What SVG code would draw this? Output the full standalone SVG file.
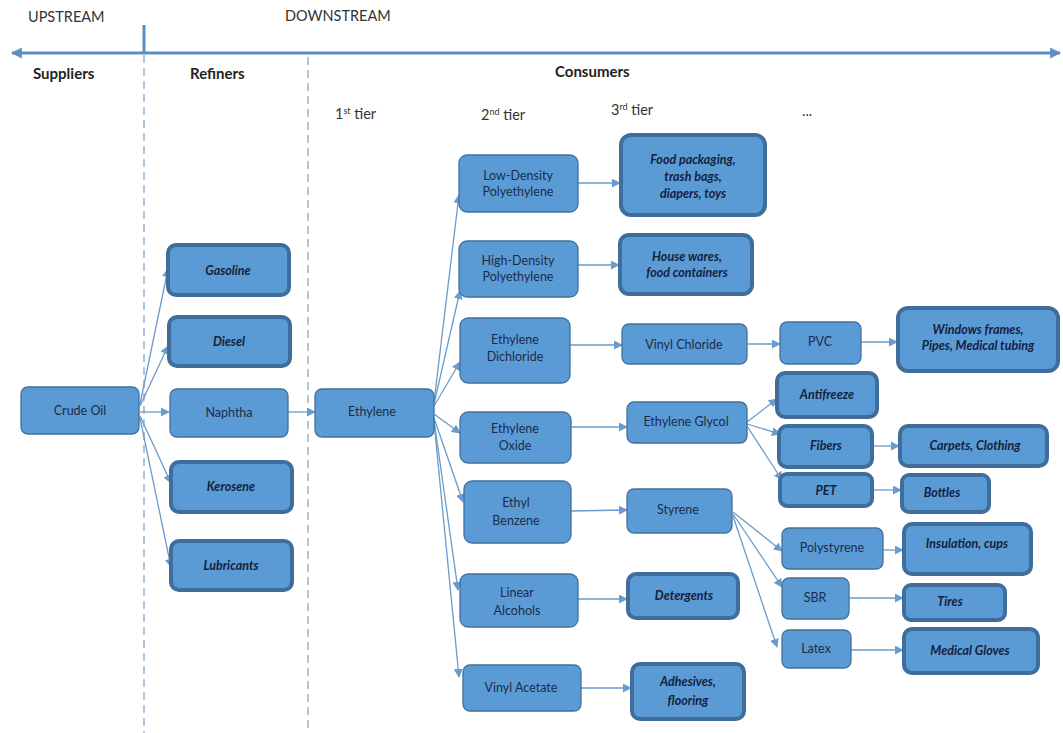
<svg xmlns="http://www.w3.org/2000/svg" width="1063" height="733" viewBox="0 0 1063 733">
<defs>
<marker id="ah" viewBox="0 0 10 10" refX="9" refY="5" markerWidth="9" markerHeight="9" markerUnits="userSpaceOnUse" orient="auto">
<path d="M0,0 L10,5 L0,10 z" fill="#6a9bcc"/>
</marker>
<marker id="axr" viewBox="0 0 10 10" refX="9" refY="5" markerWidth="11" markerHeight="11" markerUnits="userSpaceOnUse" orient="auto">
<path d="M0,0 L10,5 L0,10 z" fill="#5b8fc4"/>
</marker>
<marker id="axl" viewBox="0 0 10 10" refX="1" refY="5" markerWidth="11" markerHeight="11" markerUnits="userSpaceOnUse" orient="auto">
<path d="M10,0 L0,5 L10,10 z" fill="#5b8fc4"/>
</marker>
<style>
.n rect{fill:#5b9bd5;stroke:#41719c;stroke-width:1.3}
.t rect{fill:#5b9bd5;stroke:#3f6d9c;stroke-width:4}
text{font-family:Lato,"Liberation Sans",sans-serif;fill:#1c2b4a}
.n text{font-size:12.5px;text-anchor:middle}
.t text{font-size:12.5px;text-anchor:middle;font-weight:bold;font-style:italic;fill:#14213d}
.hd{font-size:14.5px;fill:#333}
.hb{font-size:15px;font-weight:bold;fill:#222}
.tier{font-size:14.5px;fill:#333}
.c line{stroke:#6a9bcc;stroke-width:1.3;marker-end:url(#ah)}
.dash{stroke:#8aa6c4;stroke-width:1.3;stroke-dasharray:8 5}
</style>
</defs>
<rect width="1063" height="733" fill="#fff"/>

<g id="header">
<line x1="12" y1="53" x2="1060" y2="53" stroke="#5b8fc4" stroke-width="3" marker-start="url(#axl)" marker-end="url(#axr)"/>
<line x1="144" y1="25" x2="144" y2="53" stroke="#5b8fc4" stroke-width="3"/>
<line class="dash" x1="144" y1="55" x2="144" y2="733"/>
<line class="dash" x1="308" y1="57" x2="308" y2="733"/>
<text class="hd" x="28" y="22">UPSTREAM</text>
<text class="hd" x="285" y="21">DOWNSTREAM</text>
<text class="hb" x="33" y="79">Suppliers</text>
<text class="hb" x="190" y="79">Refiners</text>
<text class="hb" x="555" y="77">Consumers</text>
<text class="tier" x="335" y="119">1<tspan font-size="9" dy="-5">st</tspan><tspan dy="5"> tier</tspan></text>
<text class="tier" x="481" y="120">2<tspan font-size="9" dy="-5">nd</tspan><tspan dy="5"> tier</tspan></text>
<text class="tier" x="611" y="115">3<tspan font-size="9" dy="-5">rd</tspan><tspan dy="5"> tier</tspan></text>
<text class="tier" x="802" y="116">...</text>
</g>

<g id="connectors" class="c">
<line x1="140" y1="404" x2="168" y2="269"/>
<line x1="140" y1="406" x2="168" y2="346"/>
<line x1="140" y1="412" x2="169" y2="412"/>
<line x1="140" y1="416" x2="171" y2="483"/>
<line x1="140" y1="418" x2="171" y2="567"/>
<line x1="288" y1="412" x2="315" y2="412"/>
<line x1="434" y1="402" x2="459" y2="195"/>
<line x1="434" y1="404" x2="460" y2="291"/>
<line x1="434" y1="406" x2="460" y2="362"/>
<line x1="434" y1="414" x2="460" y2="433"/>
<line x1="434" y1="418" x2="463" y2="502"/>
<line x1="434" y1="420" x2="458" y2="590"/>
<line x1="434" y1="422" x2="459" y2="677"/>
<line x1="578" y1="183" x2="620" y2="183"/>
<line x1="578" y1="265" x2="619" y2="265"/>
<line x1="570" y1="345" x2="622" y2="345"/>
<line x1="747" y1="344" x2="780" y2="344"/>
<line x1="861" y1="342" x2="897" y2="342"/>
<line x1="571" y1="427" x2="627" y2="427"/>
<line x1="747" y1="422" x2="777" y2="399"/>
<line x1="747" y1="424" x2="780" y2="434"/>
<line x1="747" y1="426" x2="782" y2="480"/>
<line x1="873" y1="446" x2="899" y2="446"/>
<line x1="873" y1="490" x2="901" y2="490"/>
<line x1="571" y1="511" x2="627" y2="510"/>
<line x1="733" y1="512" x2="782" y2="551"/>
<line x1="733" y1="514" x2="782" y2="587"/>
<line x1="733" y1="516" x2="777" y2="647"/>
<line x1="883" y1="550" x2="903" y2="550"/>
<line x1="849" y1="598" x2="903" y2="598"/>
<line x1="851" y1="650" x2="903" y2="650"/>
<line x1="578" y1="599" x2="627" y2="599"/>
<line x1="581" y1="688" x2="631" y2="688"/>
</g>

<g id="crude-oil" class="n"><rect x="21" y="387" width="118" height="47" rx="7"/><text x="80" y="415">Crude Oil</text></g>
<g id="gasoline" class="t"><rect x="168" y="245" width="121" height="50" rx="8"/><text x="228" y="275">Gasoline</text></g>
<g id="diesel" class="t"><rect x="169" y="317" width="121" height="49" rx="8"/><text x="229" y="346">Diesel</text></g>
<g id="naphtha" class="n"><rect x="170" y="389" width="118" height="48" rx="7"/><text x="229" y="417">Naphtha</text></g>
<g id="kerosene" class="t"><rect x="171" y="462" width="121" height="50" rx="8"/><text x="231" y="491">Kerosene</text></g>
<g id="lubricants" class="t"><rect x="171" y="541" width="121" height="49" rx="8"/><text x="231" y="570">Lubricants</text></g>
<g id="ethylene" class="n"><rect x="315" y="389" width="119" height="48" rx="7"/><text x="372" y="416">Ethylene</text></g>

<g id="ldpe" class="n"><rect x="459" y="155" width="119" height="57" rx="8"/><text x="518" y="180">Low-Density<tspan x="518" dy="16">Polyethylene</tspan></text></g>
<g id="hdpe" class="n"><rect x="459" y="241" width="119" height="56" rx="8"/><text x="518" y="265">High-Density<tspan x="518" dy="16">Polyethylene</tspan></text></g>
<g id="edc" class="n"><rect x="460" y="318" width="110" height="65" rx="8"/><text x="515" y="344">Ethylene<tspan x="515" dy="17">Dichloride</tspan></text></g>
<g id="eo" class="n"><rect x="460" y="412" width="111" height="51" rx="8"/><text x="515" y="433">Ethylene<tspan x="515" dy="17">Oxide</tspan></text></g>
<g id="eb" class="n"><rect x="464" y="481" width="107" height="62" rx="8"/><text x="516" y="507">Ethyl<tspan x="516" dy="18">Benzene</tspan></text></g>
<g id="la" class="n"><rect x="460" y="574" width="118" height="53" rx="8"/><text x="517" y="597">Linear<tspan x="517" dy="18">Alcohols</tspan></text></g>
<g id="va" class="n"><rect x="463" y="665" width="118" height="46" rx="7"/><text x="521" y="692">Vinyl Acetate</text></g>

<g id="food-packaging" class="t"><rect x="621" y="135" width="144" height="80" rx="10"/><text x="693" y="164">Food packaging,<tspan x="693" dy="17">trash bags,</tspan><tspan x="693" dy="17">diapers, toys</tspan></text></g>
<g id="house-wares" class="t"><rect x="620" y="235" width="132" height="59" rx="9"/><text x="687" y="261">House wares,<tspan x="687" dy="16">food containers</tspan></text></g>
<g id="vinyl-chloride" class="n"><rect x="622" y="324" width="125" height="40" rx="7"/><text x="684" y="349">Vinyl Chloride</text></g>
<g id="ethylene-glycol" class="n"><rect x="627" y="402" width="120" height="41" rx="7"/><text x="686" y="426">Ethylene Glycol</text></g>
<g id="styrene" class="n"><rect x="627" y="489" width="105" height="44" rx="7"/><text x="678" y="514">Styrene</text></g>
<g id="detergents" class="t"><rect x="628" y="574" width="110" height="44" rx="8"/><text x="684" y="600">Detergents</text></g>
<g id="adhesives" class="t"><rect x="632" y="664" width="112" height="55" rx="8"/><text x="688" y="686">Adhesives,<tspan x="688" dy="19">flooring</tspan></text></g>

<g id="pvc" class="n"><rect x="780" y="322" width="81" height="42" rx="7"/><text x="820" y="346">PVC</text></g>
<g id="windows" class="t"><rect x="898" y="308" width="160" height="63" rx="10"/><text x="978" y="334">Windows frames,<tspan x="978" dy="16">Pipes, Medical tubing</tspan></text></g>
<g id="antifreeze" class="t"><rect x="777" y="373" width="100" height="44" rx="8"/><text x="827" y="399">Antifreeze</text></g>
<g id="fibers" class="t"><rect x="779" y="426" width="93" height="41" rx="8"/><text x="826" y="450">Fibers</text></g>
<g id="carpets" class="t"><rect x="900" y="426" width="147" height="40" rx="8"/><text x="975" y="450">Carpets, Clothing</text></g>
<g id="pet" class="t"><rect x="780" y="474" width="92" height="32" rx="7"/><text x="826" y="495">PET</text></g>
<g id="bottles" class="t"><rect x="902" y="475" width="87" height="37" rx="7"/><text x="942" y="497">Bottles</text></g>
<g id="polystyrene" class="n"><rect x="782" y="528" width="101" height="41" rx="7"/><text x="832" y="552">Polystyrene</text></g>
<g id="insulation" class="t"><rect x="904" y="524" width="127" height="50" rx="8"/><text x="967" y="548">Insulation, cups</text></g>
<g id="sbr" class="n"><rect x="782" y="578" width="67" height="41" rx="7"/><text x="815" y="602">SBR</text></g>
<g id="tires" class="t"><rect x="904" y="585" width="101" height="35" rx="7"/><text x="950" y="606">Tires</text></g>
<g id="latex" class="n"><rect x="782" y="630" width="69" height="38" rx="7"/><text x="816" y="653">Latex</text></g>
<g id="medical-gloves" class="t"><rect x="904" y="629" width="134" height="44" rx="8"/><text x="970" y="655">Medical Gloves</text></g>
</svg>
